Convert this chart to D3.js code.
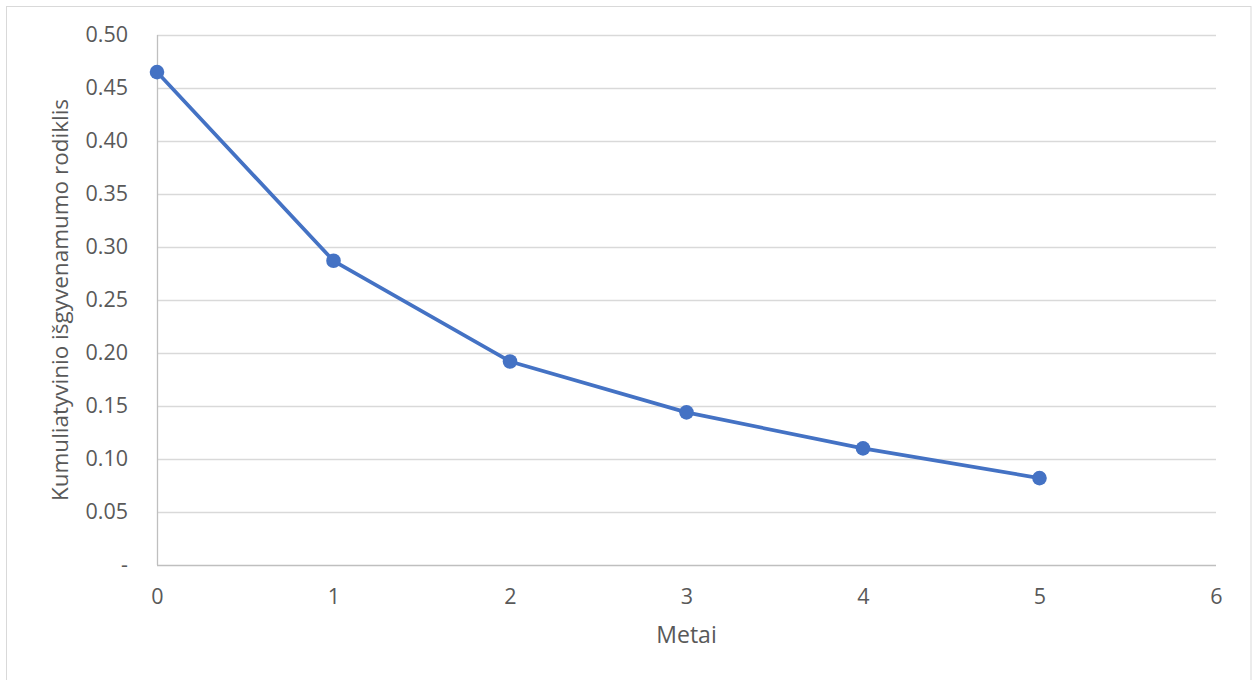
<!DOCTYPE html>
<html>
<head>
<meta charset="utf-8">
<script src="https://cdn.jsdelivr.net/npm/d3@7"></script>
<style>
  html, body { margin: 0; padding: 0; background: #fff; }
  svg text { font-family: "Open Sans", "Noto Sans", sans-serif; fill: #595959; }
</style>
</head>
<body>
<svg id="chart" width="1257" height="680"></svg>
<script>
// Cumulative survival rate by year
const years = [0, 1, 2, 3, 4, 5];
const survival = [0.465, 0.287, 0.192, 0.144, 0.110, 0.082];
const xTicks = [0, 1, 2, 3, 4, 5, 6];
const yTicks = [0, 0.05, 0.10, 0.15, 0.20, 0.25, 0.30, 0.35, 0.40, 0.45, 0.50];
const xTitle = "Metai";
const yTitle = "Kumuliatyvinio išgyvenamumo rodiklis";

const svg = d3.select("#chart");
const m = { left: 157, right: 1216, top: 35, bottom: 565 };

// outer chart frame
svg.append("rect")
  .attr("x", 6.5).attr("y", 6.5)
  .attr("width", 1251 - 6.5).attr("height", 700)
  .attr("fill", "#fff").attr("stroke", "#d9d9d9").attr("stroke-width", 1);

const x = d3.scaleLinear().domain([0, 6]).range([m.left, m.right]);
const y = d3.scaleLinear().domain([0, 0.5]).range([m.bottom, m.top]);

// horizontal gridlines
svg.append("g")
  .selectAll("line")
  .data(yTicks.filter(d => d > 0))
  .join("line")
  .attr("x1", m.left).attr("x2", m.right)
  .attr("y1", d => Math.round(y(d)) + 0.5).attr("y2", d => Math.round(y(d)) + 0.5)
  .attr("stroke", "#d9d9d9").attr("stroke-width", 1.3);

// axis lines
svg.append("line")
  .attr("x1", m.left).attr("x2", m.right)
  .attr("y1", y(0) + 0.5).attr("y2", y(0) + 0.5)
  .attr("stroke", "#bfbfbf").attr("stroke-width", 1.3);
svg.append("line")
  .attr("x1", m.left + 0.5).attr("x2", m.left + 0.5)
  .attr("y1", y(0.5)).attr("y2", y(0))
  .attr("stroke", "#bfbfbf").attr("stroke-width", 1.3);

// y tick labels
const fmtY = d => d === 0 ? "-" : d3.format(".2f")(d);
const yAxis = d3.axisLeft(y).tickValues(yTicks).tickFormat(fmtY).tickSize(0).tickPadding(29);
const gy = svg.append("g").attr("transform", `translate(${m.left},0)`).call(yAxis);
gy.select(".domain").remove();
gy.attr("font-size", null).attr("font-family", null);
gy.selectAll("text").style("font-size", "21.5px").attr("fill", "#595959");

// x tick labels
const xAxis = d3.axisBottom(x).tickValues(xTicks).tickFormat(d3.format("d")).tickSize(0).tickPadding(24);
const gx = svg.append("g").attr("transform", `translate(0,${m.bottom})`).call(xAxis);
gx.select(".domain").remove();
gx.attr("font-size", null).attr("font-family", null);
gx.selectAll("text").style("font-size", "21.5px").attr("fill", "#595959");

// axis titles
svg.append("text")
  .attr("x", (m.left + m.right) / 2).attr("y", 643)
  .attr("text-anchor", "middle").style("font-size", "23px")
  .text(xTitle);
svg.append("text")
  .attr("transform", `translate(68,${(m.top + m.bottom) / 2}) rotate(-90)`)
  .attr("text-anchor", "middle").style("font-size", "22.5px")
  .text(yTitle);

// series line and markers
const pts = years.map((d, i) => [d, survival[i]]);
svg.append("path")
  .datum(pts)
  .attr("fill", "none").attr("stroke", "#4472c4").attr("stroke-width", 3.7)
  .attr("stroke-linejoin", "round")
  .attr("d", d3.line().x(d => x(d[0])).y(d => y(d[1])));
svg.append("g")
  .selectAll("circle")
  .data(pts)
  .join("circle")
  .attr("cx", d => x(d[0])).attr("cy", d => y(d[1]))
  .attr("r", 7.3).attr("fill", "#4472c4");
</script>
</body>
</html>
